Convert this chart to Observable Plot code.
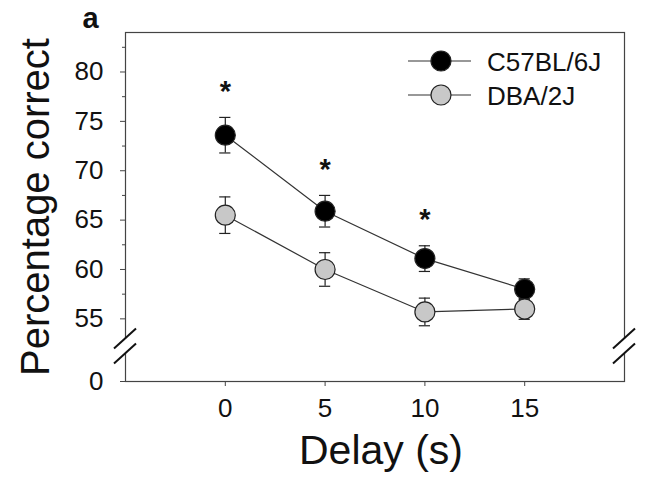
<!DOCTYPE html>
<html>
<head>
<meta charset="utf-8">
<script src="https://cdn.jsdelivr.net/npm/d3@7"></script>
<script src="https://cdn.jsdelivr.net/npm/@observablehq/plot@0.6"></script>
<style>
  html, body { margin: 0; padding: 0; background: #fff; }
  #chart { position: relative; width: 650px; height: 483px; }
  svg { font-family: "Liberation Sans", Arial, sans-serif; }
</style>
</head>
<body>
<div id="chart"></div>
<script>
// ---- data ----
const delays = [0, 5, 10, 15];
const c57Mean = [73.6, 65.9, 61.1, 58.0];
const c57Err = [1.8, 1.6, 1.3, 1.05];
const dbaMean = [65.5, 60.0, 55.7, 56.0];
const dbaErr = [1.85, 1.7, 1.4, 1.05];
const strains = ["C57BL/6J", "DBA/2J"];
const strainFill = ["#000000", "#c8c8c8"];
const sigDelays = [0, 5, 10];
const xTicks = [0, 5, 10, 15];
const yTicks = [0, 55, 60, 65, 70, 75, 80];
const yMinorTicks = [57.5, 62.5, 67.5, 72.5, 77.5, 82.5];
const yBreak = 52.2;

const rows = [];
delays.forEach((d, i) => {
  rows.push({strain: strains[0], x: d, y: c57Mean[i], e: c57Err[i]});
  rows.push({strain: strains[1], x: d, y: dbaMean[i], e: dbaErr[i]});
});
const sigRows = rows.filter(r => r.strain === strains[0] && sigDelays.includes(r.x));
const fillOf = s => strainFill[strains.indexOf(s)];
const font = '"Liberation Sans", Arial, sans-serif';

const plot = Plot.plot({
  width: 650,
  height: 483,
  marginLeft: 125,
  marginRight: 26,
  marginTop: 32,
  marginBottom: 102,
  style: {fontFamily: font, background: "#fff"},
  x: {domain: [-5, 20], label: null},
  y: {type: "linear", domain: [0, yBreak, 84], range: [381, 346, 32], label: null},
  marks: [
    Plot.frame({stroke: "#444", strokeWidth: 1.2}),
    Plot.axisX({ticks: xTicks, tickSize: 5, tickPadding: 12, fontSize: 26, stroke: "#444", fill: "#111", label: null}),
    Plot.axisY({ticks: yTicks, tickSize: 5, tickPadding: 17, fontSize: 26, stroke: "#444", fill: "#111", label: null}),
    Plot.axisY({ticks: yMinorTicks, tickSize: 3, text: null, stroke: "#444", label: null}),
    // error bars
    Plot.ruleX(rows, {x: "x", y1: d => d.y - d.e, y2: d => d.y + d.e, stroke: "#222", strokeWidth: 1.2}),
    Plot.ruleY(rows, {y: d => d.y + d.e, x1: d => d.x - 0.28, x2: d => d.x + 0.28, stroke: "#222", strokeWidth: 1.2}),
    Plot.ruleY(rows, {y: d => d.y - d.e, x1: d => d.x - 0.28, x2: d => d.x + 0.28, stroke: "#222", strokeWidth: 1.2}),
    // lines
    Plot.line(rows, {x: "x", y: "y", z: "strain", stroke: "#333", strokeWidth: 1.2}),
    // dots
    Plot.dot(rows, {x: "x", y: "y", r: 10, fill: d => fillOf(d.strain), stroke: "#222", strokeWidth: 1.2}),
    // significance
    Plot.text(sigRows, {x: "x", y: d => d.y + d.e, text: () => "*", dy: -26, fontSize: 29, fontWeight: "bold", fill: "#111"}),
    // axis titles
    Plot.text(["Percentage correct"], {frameAnchor: "left", textAnchor: "middle", dx: -89, rotate: -90, fontSize: 40, fill: "#111", text: d => d}),
    Plot.text(["Delay (s)"], {frameAnchor: "bottom", textAnchor: "middle", dx: 6, dy: 82, lineAnchor: "bottom", fontSize: 41, fill: "#111", text: d => d}),
    Plot.text(["a"], {frameAnchor: "top-left", dx: -43, dy: -5, lineAnchor: "bottom", textAnchor: "start", fontSize: 29, fontWeight: "bold", fill: "#111", text: d => d})
  ]
});

document.getElementById("chart").appendChild(plot);

// axis breaks and legend
const svg = d3.select(plot);
const ys = plot.scale("y");
const xs = plot.scale("x");
const by = ys.apply(yBreak);
const xl = xs.apply(-5), xr = xs.apply(20);
const g = svg.append("g");
[xl, xr].forEach(xx => {
  g.append("rect").attr("x", xx - 3).attr("y", by - 7).attr("width", 6).attr("height", 14).attr("fill", "#fff");
  [-7.5, 7.5].forEach(off => {
    g.append("line")
      .attr("x1", xx - 11).attr("y1", by + off + 10)
      .attr("x2", xx + 11).attr("y2", by + off - 10)
      .attr("stroke", "#111").attr("stroke-width", 2);
  });
});

const lg = svg.append("g").attr("text-anchor", "start");
strains.forEach((s, i) => {
  const cy = 61 + i * 34;
  lg.append("line").attr("x1", 408).attr("x2", 471).attr("y1", cy).attr("y2", cy).attr("stroke", "#333").attr("stroke-width", 1.2);
  lg.append("circle").attr("cx", 441).attr("cy", cy).attr("r", 10).attr("fill", strainFill[i]).attr("stroke", "#222").attr("stroke-width", 1.2);
  lg.append("text").attr("x", 487).attr("y", cy + 10).attr("text-anchor", "start").attr("font-size", 26).attr("fill", "#111").attr("font-family", font).text(s);
});
</script>
</body>
</html>
